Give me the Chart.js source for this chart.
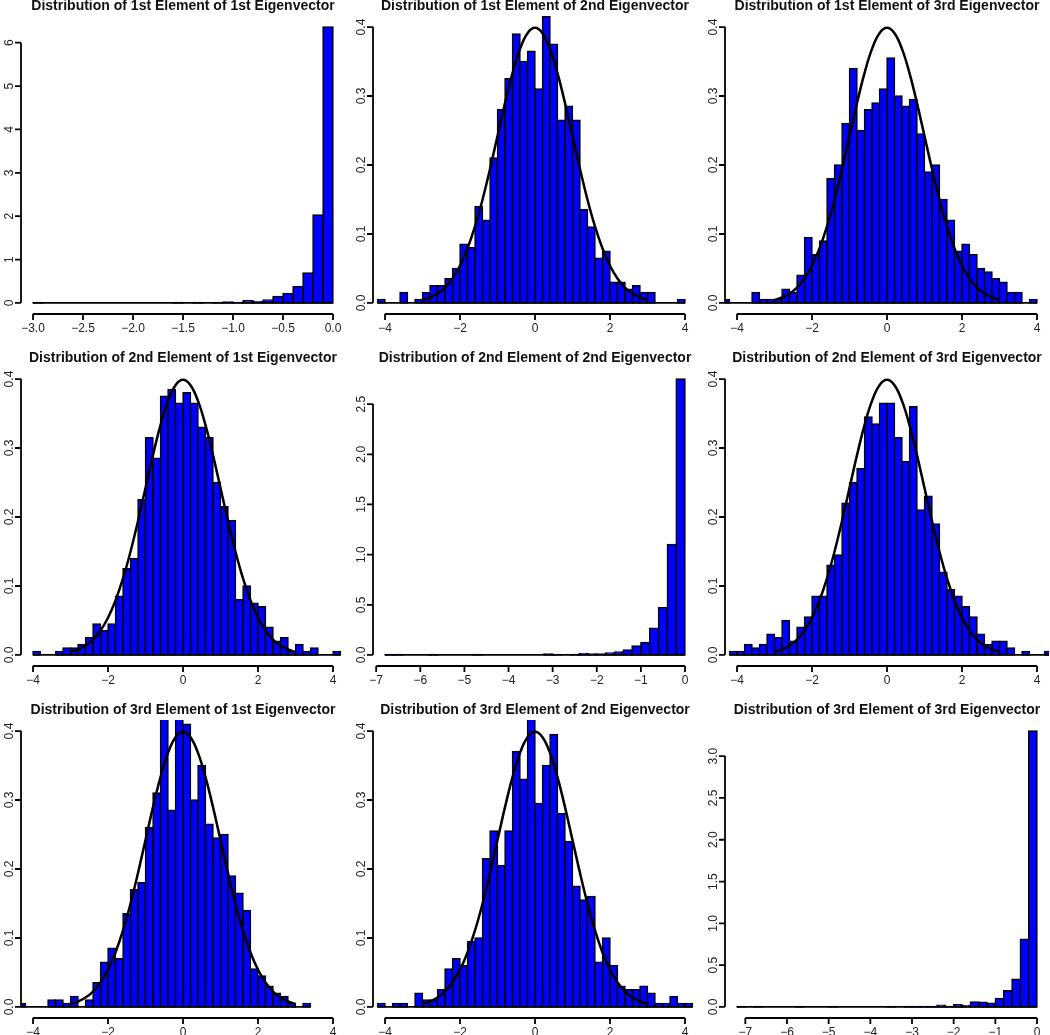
<!DOCTYPE html>
<html>
<head>
<meta charset="utf-8">
<title>Eigenvector element distributions</title>
<script src="https://cdn.jsdelivr.net/npm/chart.js@4.4.1/dist/chart.umd.min.js"></script>
<style>
  html, body { margin: 0; padding: 0; background: #fff; }
  #grid { position: relative; width: 1050px; height: 1035px; overflow: hidden; background: #fff; }
  #grid canvas { position: absolute; }
</style>
</head>
<body>
<div id="grid"></div>
<script>
// ==============================
// DATA (densities, one array per panel)
// ==============================
const elementNames = ["1st", "2nd", "3rd"];
const eigenvectorNames = ["1st", "2nd", "3rd"];

// 1st element of 1st eigenvector: breaks -3.0..0.0, width 0.1
const e11Start = -3.0, e11Width = 0.1;
const e11Density = [0.01, 0, 0, 0, 0, 0, 0, 0, 0, 0, 0, 0, 0, 0, 0.01, 0, 0.01, 0, 0.01, 0.02,
  0.01, 0.05, 0.03, 0.07, 0.15, 0.22, 0.38, 0.69, 2.03, 6.36];

// 1st element of 2nd eigenvector: breaks -4.2..4.0
const e12Start = -4.2, e12Width = 0.2;
const e12Density = [0.005, 0, 0, 0.015, 0, 0.005, 0.015, 0.025, 0.025, 0.035, 0.05, 0.085, 0.08, 0.14,
  0.12, 0.21, 0.28, 0.325, 0.39, 0.35, 0.365, 0.31, 0.415, 0.375, 0.265, 0.285, 0.265, 0.135, 0.11,
  0.065, 0.075, 0.03, 0.03, 0.02, 0.025, 0.015, 0.015, 0, 0, 0, 0.005];

// 1st element of 3rd eigenvector: breaks -4.4..4.0
const e13Start = -4.4, e13Width = 0.2;
const e13Density = [0.005, 0, 0, 0, 0.015, 0.005, 0.005, 0.005, 0.02, 0.015, 0.04, 0.095, 0.07, 0.09,
  0.18, 0.2, 0.26, 0.34, 0.25, 0.28, 0.29, 0.31, 0.355, 0.3, 0.285, 0.295, 0.245, 0.19, 0.2, 0.15,
  0.12, 0.075, 0.085, 0.07, 0.05, 0.045, 0.035, 0.03, 0.015, 0.015, 0, 0.005];

// 2nd element of 1st eigenvector: breaks -4.0..4.2
const e21Start = -4.0, e21Width = 0.2;
const e21Density = [0.005, 0, 0, 0.005, 0.01, 0.01, 0.015, 0.025, 0.045, 0.035, 0.045, 0.085, 0.125,
  0.14, 0.225, 0.315, 0.285, 0.375, 0.385, 0.365, 0.38, 0.365, 0.33, 0.315, 0.25, 0.215, 0.195, 0.08,
  0.1, 0.075, 0.07, 0.04, 0.02, 0.025, 0.005, 0.015, 0.005, 0.01, 0, 0, 0.005];

// 2nd element of 2nd eigenvector: breaks -6.8..0.0
const e22Start = -6.8, e22Width = 0.2;
const e22Density = [0.005, 0.005, 0, 0, 0, 0.005, 0, 0, 0, 0, 0.005, 0, 0, 0, 0, 0, 0, 0, 0.01, 0.005,
  0, 0.005, 0.015, 0.01, 0.01, 0.02, 0.03, 0.05, 0.09, 0.125, 0.265, 0.47, 1.1, 2.75];

// 2nd element of 3rd eigenvector: breaks -4.2..4.4
const e23Start = -4.2, e23Width = 0.2;
const e23Density = [0.005, 0.005, 0.015, 0.01, 0.015, 0.03, 0.025, 0.05, 0.02, 0.04, 0.055, 0.085, 0.085,
  0.13, 0.145, 0.22, 0.25, 0.27, 0.345, 0.335, 0.365, 0.365, 0.315, 0.28, 0.36, 0.21, 0.23, 0.19, 0.12,
  0.095, 0.085, 0.07, 0.055, 0.03, 0.015, 0.02, 0.02, 0.01, 0, 0.005, 0, 0, 0.005];

// 3rd element of 1st eigenvector: breaks -4.4..3.4
const e31Start = -4.4, e31Width = 0.2;
const e31Density = [0.005, 0, 0, 0, 0.01, 0.01, 0.005, 0.015, 0, 0.01, 0.035, 0.065, 0.085, 0.07, 0.135,
  0.17, 0.18, 0.26, 0.31, 0.45, 0.285, 0.43, 0.41, 0.3, 0.35, 0.265, 0.245, 0.25, 0.19, 0.165, 0.14,
  0.055, 0.045, 0.03, 0.02, 0.015, 0.005, 0, 0.005];

// 3rd element of 2nd eigenvector: breaks -4.2..4.2
const e32Start = -4.2, e32Width = 0.2;
const e32Density = [0.005, 0, 0.005, 0.005, 0, 0.02, 0.01, 0.01, 0.025, 0.055, 0.07, 0.06, 0.095, 0.1,
  0.215, 0.255, 0.205, 0.255, 0.37, 0.33, 0.42, 0.295, 0.35, 0.395, 0.28, 0.24, 0.175, 0.155, 0.16,
  0.065, 0.1, 0.06, 0.03, 0.025, 0.025, 0.03, 0.02, 0.005, 0.005, 0.015, 0.005, 0.005];

// 3rd element of 3rd eigenvector: breaks -7.2..0.0
const e33Start = -7.2, e33Width = 0.2;
const e33Density = [0.005, 0, 0.005, 0, 0, 0, 0, 0.005, 0, 0, 0, 0.005, 0, 0, 0, 0, 0, 0, 0.005, 0,
  0.005, 0.005, 0.005, 0.005, 0.02, 0.005, 0.025, 0.015, 0.06, 0.055, 0.045, 0.1, 0.195, 0.33, 0.81, 3.3];

// standard normal density curve overlaid on the symmetric panels
const normalX = [-3, -2.8, -2.6, -2.4, -2.2, -2, -1.8, -1.6, -1.4, -1.2, -1, -0.8, -0.6, -0.4, -0.2, 0,
  0.2, 0.4, 0.6, 0.8, 1, 1.2, 1.4, 1.6, 1.8, 2, 2.2, 2.4, 2.6, 2.8, 3];
const normalY = [0.0044, 0.0079, 0.0136, 0.0224, 0.0355, 0.054, 0.079, 0.1109, 0.1497, 0.1942, 0.242,
  0.2897, 0.3332, 0.3683, 0.391, 0.3989, 0.391, 0.3683, 0.3332, 0.2897, 0.242, 0.1942, 0.1497, 0.1109,
  0.079, 0.054, 0.0355, 0.0224, 0.0136, 0.0079, 0.0044];

// tick values and labels
const xTicksE11 = [-3, -2.5, -2, -1.5, -1, -0.5, 0];
const xLabelsE11 = ["\u22123.0", "\u22122.5", "\u22122.0", "\u22121.5", "\u22121.0", "\u22120.5", "0.0"];
const xTicksNorm = [-4, -2, 0, 2, 4];
const xLabelsNorm = ["\u22124", "\u22122", "0", "2", "4"];
const xTicksLong = [-7, -6, -5, -4, -3, -2, -1, 0];
const xLabelsLong = ["\u22127", "\u22126", "\u22125", "\u22124", "\u22123", "\u22122", "\u22121", "0"];
const yTicksE11 = [0, 1, 2, 3, 4, 5, 6];
const yLabelsE11 = ["0", "1", "2", "3", "4", "5", "6"];
const yTicksNorm = [0, 0.1, 0.2, 0.3, 0.4];
const yLabelsNorm = ["0.0", "0.1", "0.2", "0.3", "0.4"];
const yTicksE22 = [0, 0.5, 1, 1.5, 2, 2.5];
const yLabelsE22 = ["0.0", "0.5", "1.0", "1.5", "2.0", "2.5"];
const yTicksE33 = [0, 0.5, 1, 1.5, 2, 2.5, 3];
const yLabelsE33 = ["0.0", "0.5", "1.0", "1.5", "2.0", "2.5", "3.0"];

// axis limits (R xlim / ylim, before the 4% expansion)
const xlimE11 = [-3, 0], xlimNorm = [-4, 4], xlimE22 = [-6.8, 0], xlimE33 = [-7.2, 0];
const ylimE11 = [0, 6.36], ylimNorm = [0, 0.4], ylimE22 = [0, 2.75], ylimE33 = [0, 3.3];

// ==============================
// PANELS (row = element, column = eigenvector)
// ==============================
const panels = [
  { start: e11Start, width: e11Width, density: e11Density, curve: false, xlim: xlimE11, ylim: ylimE11, xt: xTicksE11, xl: xLabelsE11, yt: yTicksE11, yl: yLabelsE11 },
  { start: e12Start, width: e12Width, density: e12Density, curve: true, xlim: xlimNorm, ylim: ylimNorm, xt: xTicksNorm, xl: xLabelsNorm, yt: yTicksNorm, yl: yLabelsNorm },
  { start: e13Start, width: e13Width, density: e13Density, curve: true, xlim: xlimNorm, ylim: ylimNorm, xt: xTicksNorm, xl: xLabelsNorm, yt: yTicksNorm, yl: yLabelsNorm },
  { start: e21Start, width: e21Width, density: e21Density, curve: true, xlim: xlimNorm, ylim: ylimNorm, xt: xTicksNorm, xl: xLabelsNorm, yt: yTicksNorm, yl: yLabelsNorm },
  { start: e22Start, width: e22Width, density: e22Density, curve: false, xlim: xlimE22, ylim: ylimE22, xt: xTicksLong, xl: xLabelsLong, yt: yTicksE22, yl: yLabelsE22 },
  { start: e23Start, width: e23Width, density: e23Density, curve: true, xlim: xlimNorm, ylim: ylimNorm, xt: xTicksNorm, xl: xLabelsNorm, yt: yTicksNorm, yl: yLabelsNorm },
  { start: e31Start, width: e31Width, density: e31Density, curve: true, xlim: xlimNorm, ylim: ylimNorm, xt: xTicksNorm, xl: xLabelsNorm, yt: yTicksNorm, yl: yLabelsNorm },
  { start: e32Start, width: e32Width, density: e32Density, curve: true, xlim: xlimNorm, ylim: ylimNorm, xt: xTicksNorm, xl: xLabelsNorm, yt: yTicksNorm, yl: yLabelsNorm },
  { start: e33Start, width: e33Width, density: e33Density, curve: false, xlim: xlimE33, ylim: ylimE33, xt: xTicksLong, xl: xLabelsLong, yt: yTicksE33, yl: yLabelsE33 }
];

// ==============================
// R-STYLE AXES + TITLE
// ==============================
const FONT = '"Liberation Sans", Arial, Helvetica, sans-serif';

const rAxes = {
  id: "rAxes",
  afterDraw(chart, args, opts) {
    const { ctx, chartArea: a, scales: { x, y } } = chart;
    ctx.save();
    ctx.strokeStyle = "#000";
    ctx.fillStyle = "#111";
    ctx.lineWidth = 1.8;

    // title
    ctx.font = "bold 14px " + FONT;
    ctx.textAlign = "center";
    ctx.textBaseline = "middle";
    ctx.fillText(opts.title, (a.left + a.right) / 2, a.top - 10);

    // x axis
    const xs = opts.xt.map(v => x.getPixelForValue(v));
    ctx.beginPath();
    ctx.moveTo(xs[0], a.bottom);
    ctx.lineTo(xs[xs.length - 1], a.bottom);
    xs.forEach(px => { ctx.moveTo(px, a.bottom); ctx.lineTo(px, a.bottom + 6); });
    ctx.stroke();
    ctx.font = "12px " + FONT;
    ctx.fillStyle = "#222";
    opts.xl.forEach((t, i) => ctx.fillText(t, xs[i], a.bottom + 15));

    // y axis
    const ys = opts.yt.map(v => y.getPixelForValue(v));
    ctx.beginPath();
    ctx.moveTo(a.left, ys[0]);
    ctx.lineTo(a.left, ys[ys.length - 1]);
    ys.forEach(py => { ctx.moveTo(a.left, py); ctx.lineTo(a.left - 6, py); });
    ctx.stroke();
    opts.yl.forEach((t, i) => {
      ctx.save();
      ctx.translate(a.left - 11, ys[i]);
      ctx.rotate(-Math.PI / 2);
      ctx.fillText(t, 0, 0);
      ctx.restore();
    });
    ctx.restore();
  }
};

// ==============================
// BUILD
// ==============================
const PAD = { left: 40, right: 10, top: 30, bottom: 30 };
const AREA_W = 324, AREA_H = 298;
const colLeft = [21, 373, 725];
const rowTop = [16, 368, 720];
const grid = document.getElementById("grid");

function expand(lim) {
  const d = (lim[1] - lim[0]) * 0.04;
  return [lim[0] - d, lim[1] + d];
}

panels.forEach((p, k) => {
  const row = Math.floor(k / 3), col = k % 3;
  const canvas = document.createElement("canvas");
  canvas.width = PAD.left + AREA_W + PAD.right;
  canvas.height = PAD.top + AREA_H + PAD.bottom;
  canvas.style.left = (colLeft[col] - PAD.left) + "px";
  canvas.style.top = (rowTop[row] - PAD.top) + "px";
  grid.appendChild(canvas);

  const bars = p.density.map((d, i) => ({ x: p.start + (i + 0.5) * p.width, y: d > 0 ? d : null }));
  const end = p.start + p.density.length * p.width;
  const [xmin, xmax] = expand(p.xlim);
  const [ymin, ymax] = expand(p.ylim);

  const datasets = [
    {
      // zero-height bins show as a flat line along y = 0, drawn over the bars like R does
      type: "line", order: 0,
      data: [{ x: p.start, y: 0 }, { x: end, y: 0 }],
      borderColor: "#000", borderWidth: 1.8, pointRadius: 0, clip: 0
    },
    {
      type: "bar", order: 2,
      data: bars,
      backgroundColor: "#0000ff", borderColor: "#000", borderWidth: 1.5,
      borderSkipped: false, inflateAmount: 0.75,
      barPercentage: 1, categoryPercentage: 1, clip: 0
    }
  ];
  if (p.curve) {
    datasets.push({
      type: "line", order: 1,
      data: normalX.map((v, i) => ({ x: v, y: normalY[i] })),
      borderColor: "#000", borderWidth: 2.5, pointRadius: 0, tension: 0.4, clip: 0
    });
  }

  new Chart(canvas, {
    type: "bar",
    data: { datasets },
    options: {
      responsive: false,
      animation: false,
      events: [],
      layout: { padding: PAD },
      scales: {
        x: { type: "linear", min: xmin, max: xmax, offset: false, display: false,
             ticks: { stepSize: 1, includeBounds: false } },
        y: { type: "linear", min: ymin, max: ymax, display: false,
             ticks: { includeBounds: false } }
      },
      plugins: {
        legend: { display: false },
        tooltip: { enabled: false },
        rAxes: {
          title: "Distribution of " + elementNames[row] + " Element of " + eigenvectorNames[col] + " Eigenvector",
          xt: p.xt, xl: p.xl, yt: p.yt, yl: p.yl
        }
      }
    },
    plugins: [rAxes]
  });
});
</script>
</body>
</html>
